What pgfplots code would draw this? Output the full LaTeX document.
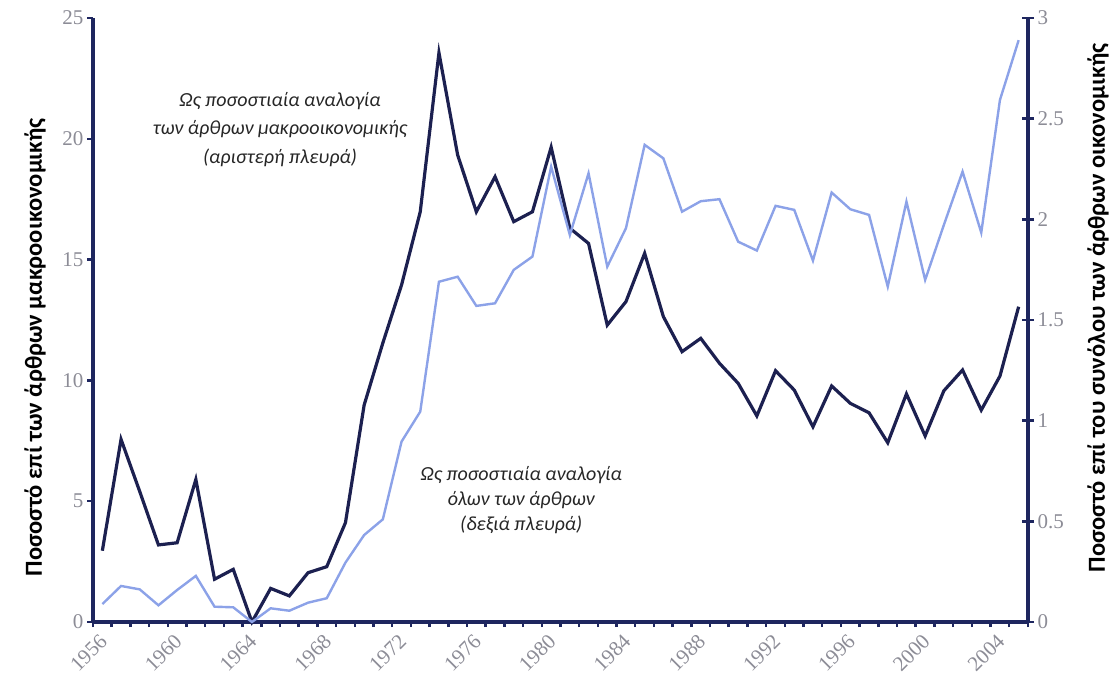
\documentclass[border=0pt]{standalone}
\usepackage{fontspec}
\setmainfont{Carlito}
\newfontfamily\tickfont{Liberation Serif}
\usepackage{pgfplots}
\pgfplotsset{compat=1.18}
\usepackage{pgfplotstable}

\definecolor{navy}{RGB}{28,32,80}
\definecolor{axisnavy}{RGB}{30,38,95}
\definecolor{lightline}{RGB}{140,162,232}
\definecolor{ticktext}{RGB}{140,140,150}

% macro share (left axis), percent
\pgfplotstableread{
year val
1956 2.95
1957 7.56
1958 5.40
1959 3.19
1960 3.28
1961 5.90
1962 1.77
1963 2.18
1964 0.00
1965 1.39
1966 1.08
1967 2.04
1968 2.29
1969 4.11
1970 8.98
1971 11.55
1972 13.95
1973 16.98
1974 23.56
1975 19.33
1976 16.98
1977 18.43
1978 16.57
1979 16.98
1980 19.65
1981 16.30
1982 15.67
1983 12.29
1984 13.26
1985 15.26
1986 12.64
1987 11.19
1988 11.74
1989 10.71
1990 9.88
1991 8.53
1992 10.40
1993 9.60
1994 8.08
1995 9.77
1996 9.05
1997 8.66
1998 7.42
1999 9.44
2000 7.70
2001 9.57
2002 10.43
2003 8.77
2004 10.18
2005 13.05
}\macroshare

% share of all articles (right axis), percent
\pgfplotstableread{
year val
1956 0.089
1957 0.179
1958 0.162
1959 0.083
1960 0.159
1961 0.229
1962 0.076
1963 0.073
1964 0.000
1965 0.068
1966 0.056
1967 0.096
1968 0.118
1969 0.295
1970 0.432
1971 0.510
1972 0.896
1973 1.045
1974 1.690
1975 1.715
1976 1.570
1977 1.583
1978 1.749
1979 1.815
1980 2.262
1981 1.922
1982 2.229
1983 1.765
1984 1.956
1985 2.370
1986 2.303
1987 2.038
1988 2.090
1989 2.100
1990 1.889
1991 1.845
1992 2.067
1993 2.047
1994 1.795
1995 2.133
1996 2.050
1997 2.022
1998 1.666
1999 2.088
2000 1.699
2001 1.972
2002 2.237
2003 1.934
2004 2.593
2005 2.890
}\allshare

\pgfplotsset{
  common/.style={
    at={(0,0)}, anchor=south west,
    scale only axis, width=935pt, height=604pt,
    xmin=1955.5, xmax=2005.5,
    clip=false,
    axis line style={axisnavy, line width=3.5pt},
    tick style={axisnavy, line width=2.5pt},
    ticklabel style={font=\tickfont\fontsize{21}{21}\selectfont, text=ticktext},
    /pgf/number format/assume math mode=true,
  },
}

\begin{document}
\begin{tikzpicture}
\path[use as bounding box] (-93pt,-53pt) rectangle (1024pt,622pt);

\begin{axis}[common,
  ymin=0, ymax=25,
  axis x line*=bottom, axis y line*=left,
  ytick={0,5,...,25},
  tick align=outside,
  major tick length=6pt,
  xtick={1956,1960,...,2004},
  x tick label style={/pgf/number format/1000 sep={}, rotate=45, anchor=east, yshift=-8pt, xshift=-3pt},
  major x tick style={draw=none},
  minor xtick={1955.5,1956.5,...,2005.5},
  minor tick length=5pt,
  minor x tick style={axisnavy, line width=2.5pt},
  ylabel={Ποσοστό επί των άρθρων μακροοικονομικής},
  ylabel style={at={(axis description cs:-0.062,0.455)}, anchor=center,
    font=\bfseries\fontsize{24.5}{24.5}\selectfont},
]
\addplot[navy, line width=3.2pt, line join=miter] table[x=year, y=val] {\macroshare};
\node[font=\itshape\fontsize{20}{28.5}\selectfont, align=center, text=black!85]
  at (axis cs:1965.5,20.4) {Ως ποσοστιαία αναλογία\\των άρθρων μακροοικονομικής\\(αριστερή πλευρά)};
\node[font=\itshape\fontsize{20}{25}\selectfont, align=center, text=black!85]
  at (axis cs:1978.4,5.05) {Ως ποσοστιαία αναλογία\\όλων των άρθρων\\(δεξιά πλευρά)};
\end{axis}

\begin{axis}[common,
  ymin=0, ymax=3,
  axis x line=none, axis y line*=right,
  ytick={0,0.5,...,3},
  tick align=center,
  major tick length=12pt,
  y tick label style={/pgf/number format/.cd, fixed, precision=1},
  ylabel={Ποσοστό επί του συνόλου των άρθρων οικονομικής},
  ylabel style={at={(axis description cs:1.075,0.52)}, anchor=center,
    font=\bfseries\fontsize{24.5}{24.5}\selectfont},
]
\addplot[lightline, line width=2.4pt, line join=miter] table[x=year, y=val] {\allshare};
\end{axis}
\end{tikzpicture}
\end{document}
